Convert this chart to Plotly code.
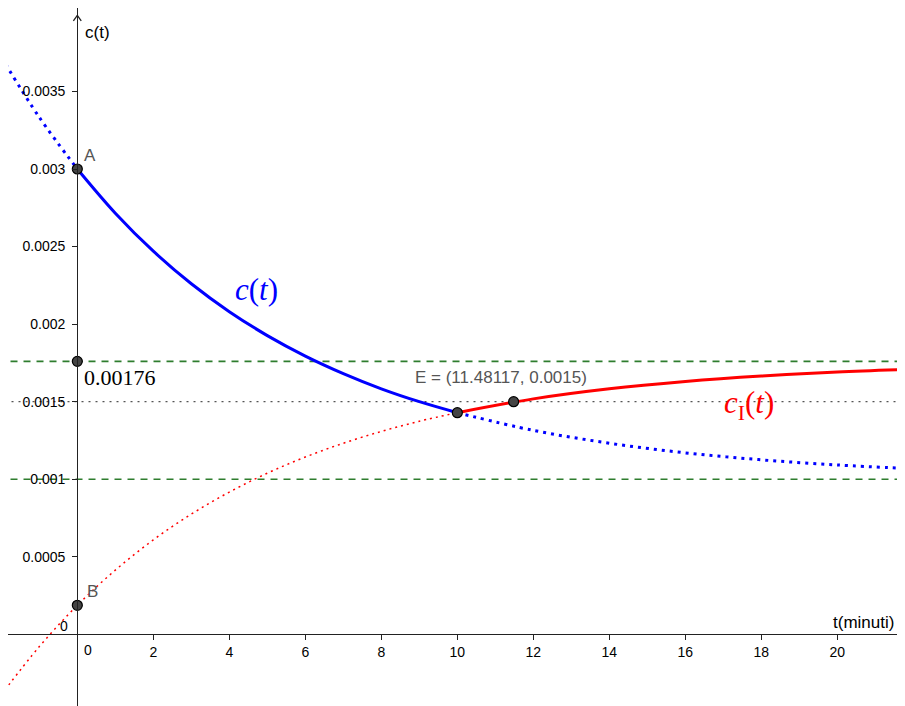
import plotly.graph_objects as go

# ---- data ----
t_vals = [-2.0, -1.0, 0.0, 1.0, 2.0, 3.0, 4.0, 5.0, 6.0, 7.0, 8.0, 9.0, 10.0,
          12.0, 14.0, 16.0, 18.0, 20.0, 21.8]
c_vals = [0.003721, 0.003333, 0.003, 0.002715, 0.002470, 0.002260, 0.002080,
          0.001926, 0.001794, 0.001681, 0.001583, 0.001500, 0.001429,
          0.001315, 0.001232, 0.001170, 0.001125, 0.001092, 0.001070]
cI_vals = [-0.000389, -0.000079, 0.000187, 0.000414, 0.000609, 0.000775,
           0.000917, 0.001039, 0.001143, 0.001232, 0.001308, 0.001374,
           0.001429, 0.001518, 0.001583, 0.001630, 0.001665, 0.001691, 0.001707]

point_t = [0.0, 0.0, 0.0, 10.0, 11.48117]
point_c = [0.003, 0.00176, 0.000187, 0.001429, 0.0015]

h_dashed = [0.00176, 0.001]
h_dotted = [0.0015]

x_ticks = [2, 4, 6, 8, 10, 12, 14, 16, 18, 20]
y_ticks = [0.0005, 0.001, 0.0015, 0.002, 0.0025, 0.003, 0.0035]
y_tick_text = ["0.0005", "0.001", "0.0015", "0.002", "0.0025", "0.003", "0.0035"]

x_range = [-1.824, 21.78]
y_range = [-0.000462, 0.004038]

i0 = t_vals.index(0.0)
i10 = t_vals.index(10.0)

fig = go.Figure()

# horizontal reference lines
for yv in h_dashed:
    fig.add_trace(go.Scatter(x=[-2.1, 22.0], y=[yv, yv], mode="lines",
                             line=dict(color="#2e7d2e", width=1.6, dash="7px,6px"),
                             hoverinfo="skip"))
for yv in h_dotted:
    fig.add_trace(go.Scatter(x=[-2.1, 22.0], y=[yv, yv], mode="lines",
                             line=dict(color="#555555", width=1.4, dash="2px,5px"),
                             hoverinfo="skip"))

# red curve c_I(t): dotted before 10, solid after
fig.add_trace(go.Scatter(x=t_vals[:i10 + 1], y=cI_vals[:i10 + 1], mode="lines",
                         line=dict(color="#ff0000", width=1.5, dash="2px,4px", shape="spline"),
                         hoverinfo="skip"))
fig.add_trace(go.Scatter(x=t_vals[i10:], y=cI_vals[i10:], mode="lines",
                         line=dict(color="#ff0000", width=3, shape="spline"),
                         hoverinfo="skip"))

# blue curve c(t): dotted outside [0,10], solid inside
fig.add_trace(go.Scatter(x=t_vals[:i0 + 1], y=c_vals[:i0 + 1], mode="lines",
                         line=dict(color="#0000ff", width=3, dash="3px,5px", shape="spline"),
                         hoverinfo="skip"))
fig.add_trace(go.Scatter(x=t_vals[i10:], y=c_vals[i10:], mode="lines",
                         line=dict(color="#0000ff", width=3, dash="3px,5px", shape="spline"),
                         hoverinfo="skip"))
fig.add_trace(go.Scatter(x=t_vals[i0:i10 + 1], y=c_vals[i0:i10 + 1], mode="lines",
                         line=dict(color="#0000ff", width=3, shape="spline"),
                         hoverinfo="skip"))

# points
fig.add_trace(go.Scatter(x=point_t, y=point_c, mode="markers",
                         marker=dict(size=10, color="#444444",
                                     line=dict(color="#000000", width=1.2)),
                         hoverinfo="skip"))

gray = "#555555"
ann = [
    dict(x=0.15, y=0.003877, text="c(t)", xanchor="left", yanchor="middle",
         font=dict(family="Liberation Sans", size=17, color="#000000")),
    dict(x=20.68, y=0.0000735, text="t(minuti)", xanchor="center", yanchor="middle",
         font=dict(family="Liberation Sans", size=17, color="#000000")),
    dict(x=0.13, y=0.00309, text="A", xanchor="left", yanchor="middle",
         font=dict(family="Liberation Sans", size=17, color=gray)),
    dict(x=0.21, y=0.000279, text="B", xanchor="left", yanchor="middle",
         font=dict(family="Liberation Sans", size=17, color=gray)),
    dict(x=0.12, y=0.001659, text="0.00176", xanchor="left", yanchor="middle",
         font=dict(family="Liberation Serif", size=22, color="#000000")),
    dict(x=8.83, y=0.001653, text="E = (11.48117, 0.0015)", xanchor="left", yanchor="middle",
         font=dict(family="Liberation Sans", size=17, color=gray)),
    dict(x=4.71, y=0.00222, text="<i>c</i>(<i>t</i>)", xanchor="center", yanchor="middle",
         font=dict(family="Liberation Serif", size=31, color="#0000ff")),
    dict(x=16.97, y=0.001478, text="<i>c</i><sub>I</sub>(<i>t</i>)", xanchor="left", yanchor="middle",
         font=dict(family="Liberation Serif", size=31, color="#ff0000")),
    dict(x=0.28, y=-0.0001, text="0", xanchor="center", yanchor="middle",
         font=dict(family="Liberation Sans", size=14, color="#000000")),
    dict(x=-0.35, y=0.0000535, text="0", xanchor="center", yanchor="middle",
         font=dict(family="Liberation Sans", size=14, color="#000000")),
]
annotations = [dict(a, xref="x", yref="y", showarrow=False) for a in ann]
# open arrow head at top of the y axis
for dx in (-5, 5):
    annotations.append(dict(x=0, y=0.00399, xref="x", yref="y", ax=dx, ay=7,
                            showarrow=True, arrowhead=0, arrowwidth=1.3,
                            arrowcolor="#222222", text=""))

fig.update_layout(
    width=897, height=698,
    margin=dict(l=0, r=0, t=0, b=0),
    paper_bgcolor="white", plot_bgcolor="white",
    showlegend=False,
    annotations=annotations,
    xaxis=dict(range=x_range, showgrid=False, zeroline=False,
               anchor="free", position=(0 - y_range[0]) / (y_range[1] - y_range[0]),
               showline=True, linecolor="#222222", linewidth=1.3,
               ticks="outside", ticklen=5, tickwidth=1.3, tickcolor="#222222",
               tickvals=x_ticks, ticktext=[str(v) for v in x_ticks],
               tickfont=dict(family="Liberation Sans", size=14, color="#000000")),
    yaxis=dict(range=y_range, showgrid=False, zeroline=False,
               anchor="free", position=(0 - x_range[0]) / (x_range[1] - x_range[0]),
               showline=True, linecolor="#222222", linewidth=1.3,
               ticks="outside", ticklen=5, tickwidth=1.3, tickcolor="#222222",
               ticklabelstandoff=4,
               tickvals=y_ticks, ticktext=y_tick_text,
               tickfont=dict(family="Liberation Sans", size=14, color="#000000")),
)

fig.write_html("out.html")
